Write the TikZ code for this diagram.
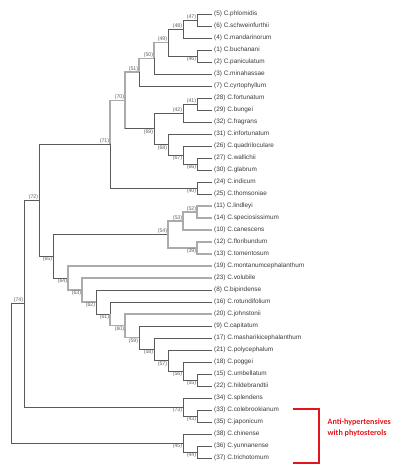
\documentclass[tikz,border=0pt]{standalone}
\usepackage{fontspec}
\setmainfont{Liberation Sans}
\newfontfamily\brfont{Carlito}
\definecolor{lnD}{HTML}{5A5A5A}
\definecolor{lnL}{HTML}{ABABAB}
\definecolor{txD}{HTML}{3A3A3A}
\definecolor{lbl}{HTML}{606060}
\definecolor{redB}{HTML}{E5141C}
\tikzset{
  br/.style={draw=lnD, line width=0.8pt},
  brL/.style={draw=lnL, line width=1.3pt},
  leaftxt/.style={anchor=west, inner sep=0pt, font=\fontsize{6.4}{7}\selectfont, text=txD},
  upl/.style={anchor=south east, inner sep=0.6pt, font=\fontsize{5.3}{6}\selectfont, text=lbl},
  lol/.style={anchor=north east, inner sep=0.6pt, font=\fontsize{5.3}{6}\selectfont, text=lbl},
}
\begin{document}
\begin{tikzpicture}[x=1pt,y=-1pt]
\useasboundingbox (0,0) rectangle (398,469);
% leaves
\foreach \i/\t in {1/(5) C.phlomidis,2/(6) C.schweinfurthii,3/(4) C.mandarinorum,4/(1) C.buchanani,5/(2) C.paniculatum,6/(3) C.minahassae,7/(7) C.cyrtophyllum,8/(28) C.fortunatum,9/(29) C.bungei,10/(32) C.fragrans,11/(31) C.infortunatum,12/(26) C.quadriloculare,13/(27) C.wallichii,14/(30) C.glabrum,15/(24) C.indicum,16/(25) C.thomsoniae,17/(11) C.lindleyi,18/(14) C.speciosissimum,19/(10) C.canescens,20/(12) C.floribundum,21/(13) C.tomentosum,22/(19) C.montanumcephalanthum,23/(23) C.volubile,24/(8) C.bipindense,25/(16) C.rotundifolium,26/(20) C.johnstonii,27/(9) C.capitatum,28/(17) C.masharikicephalanthum,29/(21) C.polycephalum,30/(18) C.poggei,31/(15) C.umbellatum,32/(22) C.hildebrandtii,33/(34) C.splendens,34/(33) C.colebrookianum,35/(35) C.japonicum,36/(38) C.chinense,37/(36) C.yunnanense,38/(37) C.trichotomum}{
  \coordinate (l\i) at (212,{14+12*(\i-1)});
  \node[leaftxt] (t\i) at (214,{14+12*(\i-1)}) {\t};
}
% internal nodes
\coordinate (n47) at (197,20);
\coordinate (n48) at (183,29);
\coordinate (n46) at (197,56);
\coordinate (n49) at (168,42.5);
\coordinate (n50) at (154,58.25);
\coordinate (n51) at (139,72.1);
\coordinate (n41) at (197,104);
\coordinate (n42) at (183,113);
\coordinate (n66) at (197,164);
\coordinate (n67) at (183,155);
\coordinate (n68) at (168,144.5);
\coordinate (n69) at (154,128.75);
\coordinate (n70) at (125,100.4);
\coordinate (n40) at (197,188);
\coordinate (n71) at (110,144.2);
\coordinate (n52) at (197,212);
\coordinate (n53) at (183,221);
\coordinate (n39) at (197,248);
\coordinate (n54) at (168,234.5);
\coordinate (n55) at (197,380);
\coordinate (n56) at (183,371);
\coordinate (n57) at (168,360.5);
\coordinate (n58) at (154,349.25);
\coordinate (n59) at (139,337.6);
\coordinate (n60) at (125,325.8);
\coordinate (n61) at (110,313.9);
\coordinate (n62) at (96,302);
\coordinate (n63) at (82,290);
\coordinate (n64) at (68,278);
\coordinate (n65) at (53,256.2);
\coordinate (n72) at (39,200.2);
\coordinate (n43) at (197,416);
\coordinate (n73) at (183,407);
\coordinate (n74) at (24,303.6);
\coordinate (n44) at (197,452);
\coordinate (n45) at (183,443);
\coordinate (root) at (11,373.3);
% dark branches
\foreach \p/\c in {n47/l1,n47/l2,n48/n47,n48/l3,n46/l4,n46/l5,n49/n48,n49/n46,n50/l6,n51/l7,
  n41/l8,n41/l9,n42/n41,n42/l10,n66/l13,n66/l14,n67/l12,n67/n66,n68/l11,n68/n67,n69/n42,n69/n68,
  n40/l15,n40/l16,n71/n40,n65/n54,
  n55/l31,n55/l32,n56/l30,n56/n55,n57/l29,n57/n56,n58/l28,n58/n57,n59/l27,n59/n58,
  n61/l25,n62/l24,n62/n61,n65/n64,n72/n71,n72/n65,
  n43/l34,n43/l35,n73/l33,n73/n43,n74/n72,n74/n73,n44/l37,n44/l38,n45/l36,n45/n44,root/n74,root/n45}{
  \draw[br] (\p) |- (\c);
}
% light (grey) branches
\foreach \p/\c in {n51/n50,n50/n49,n70/n51,n71/n70,
  n52/l17,n52/l18,n53/n52,n53/l19,n54/n53,n54/n39,n39/l20,n39/l21,n64/l22,n64/n63,n63/l23,n63/n62,n60/n59,n60/l26,n61/n60}{
  \draw[brL] (\p) |- (\c);
}
\draw[brL] (n70) -- (n70 |- n69);
\draw[br] (n70 |- n69) -- (n69);
% node labels
\foreach \n/\t in {n47/47,n48/48,n49/49,n50/50,n51/51,n41/41,n42/42,n70/70,n71/71,n52/52,n53/53,n54/54,n72/72,n74/74}{
  \node[upl] at (\n) {(\t)};
}
\foreach \n/\t in {n46/46,n66/66,n67/67,n68/68,n69/69,n40/40,n39/39,n55/55,n56/56,n57/57,n58/58,n59/59,n60/60,n61/61,n62/62,n63/63,n64/64,n65/65,n43/43,n73/73,n44/44,n45/45}{
  \node[lol] at (\n) {(\t)};
}
% red bracket
\coordinate (b1) at (293,409);
\coordinate (b2) at (319,409);
\coordinate (b3) at (319,463);
\coordinate (b4) at (293,463);
\draw[redB, line width=2pt, line join=miter] (b1) -- (b2) -- (b3) -- (b4);
\node[anchor=west, align=left, inner sep=0pt, text=redB, font=\brfont\bfseries\fontsize{8.1}{11}\selectfont] (note) at (327.5,427.5) {Anti-hypertensives\\with phytosterols};
\end{tikzpicture}
\end{document}
